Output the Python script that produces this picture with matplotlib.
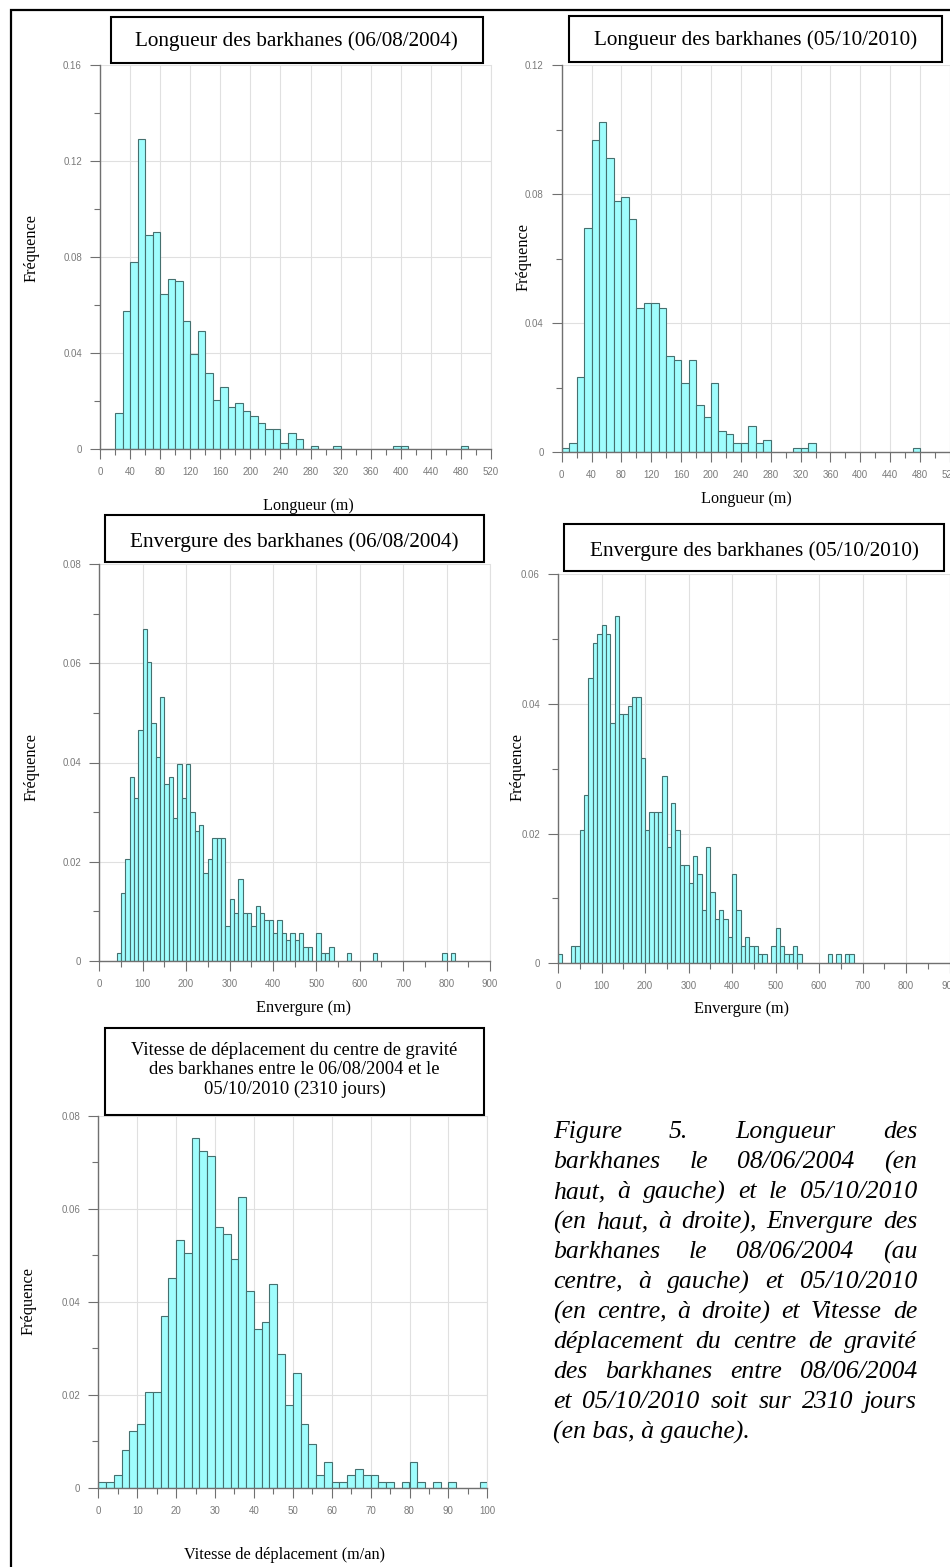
import matplotlib
matplotlib.use('Agg')
import matplotlib.pyplot as plt
from matplotlib.patches import Rectangle
from matplotlib.ticker import MultipleLocator, FuncFormatter

# Longueur des barkhanes 2004 : classes de 10 m à partir de 20 m
long04_start = 20
long04_freq = [0.015, 0.0575, 0.078, 0.129, 0.089, 0.0905, 0.0645, 0.071, 0.070, 0.0535,
               0.0395, 0.049, 0.0315, 0.0205, 0.026, 0.0175, 0.019, 0.016, 0.0138, 0.011,
               0.0082, 0.0082, 0.0026, 0.0068, 0.004, 0, 0.0013, 0, 0, 0.0013,
               0, 0, 0, 0, 0, 0, 0, 0.0013, 0.0013, 0,
               0, 0, 0, 0, 0, 0, 0.0013]

# Longueur des barkhanes 2010 : classes de 10 m à partir de 0
long10_start = 0
long10_freq = [0.0012, 0.0028, 0.0232, 0.0696, 0.0969, 0.1024, 0.0912, 0.0778, 0.0792, 0.0724,
               0.0448, 0.0464, 0.0464, 0.0448, 0.0297, 0.0287, 0.0216, 0.0287, 0.0147, 0.0108,
               0.0216, 0.0067, 0.0056, 0.0028, 0.0028, 0.008, 0.0028, 0.0039, 0, 0,
               0, 0.0014, 0.0014, 0.003, 0, 0, 0, 0, 0, 0,
               0, 0, 0, 0, 0, 0, 0, 0.0014]

# Envergure 2004 : classes de 10 m à partir de 40 m
env04_start = 40
env04_freq = [0.0015, 0.0137, 0.0206, 0.037, 0.0328, 0.0466, 0.067, 0.0603, 0.048, 0.0412,
              0.0533, 0.0356, 0.037, 0.0289, 0.0397, 0.0329, 0.0397, 0.0301, 0.0261, 0.0274,
              0.0178, 0.0206, 0.0247, 0.0247, 0.0247, 0.007, 0.0124, 0.0097, 0.0164, 0.0097,
              0.0097, 0.007, 0.011, 0.0097, 0.0082, 0.0082, 0.0055, 0.0082, 0.0055, 0.0042,
              0.0055, 0.0042, 0.0055, 0.0028, 0.0028, 0, 0.0055, 0.0015, 0.0015, 0.0028,
              0, 0, 0, 0.0015, 0, 0, 0, 0, 0, 0.0015,
              0, 0, 0, 0, 0, 0, 0, 0, 0, 0,
              0, 0, 0, 0, 0, 0.0015, 0, 0.0015]

# Envergure 2010 : classes de 10 m à partir de 0
env10_start = 0
env10_freq = [0.0014, 0, 0, 0.0027, 0.0027, 0.0206, 0.026, 0.0439, 0.0494, 0.0508,
              0.0521, 0.0508, 0.037, 0.0535, 0.0384, 0.0384, 0.0397, 0.0411, 0.0411, 0.0316,
              0.0206, 0.0233, 0.0233, 0.0233, 0.0288, 0.0179, 0.0247, 0.0206, 0.0151, 0.0151,
              0.0123, 0.0165, 0.0138, 0.0082, 0.0179, 0.011, 0.0068, 0.0082, 0.0068, 0.0041,
              0.0138, 0.0082, 0.0027, 0.0041, 0.0027, 0.0027, 0.0014, 0.0014, 0, 0.0027,
              0.0055, 0.0027, 0.0014, 0.0014, 0.0027, 0.0014, 0, 0, 0, 0,
              0, 0, 0.0014, 0, 0.0014, 0, 0.0014, 0.0014]

# Vitesse de déplacement : classes de 2 m/an à partir de 0
vit_start = 0
vit_freq = [0.0013, 0.0013, 0.0027, 0.0081, 0.0122, 0.0137, 0.0205, 0.0205, 0.037, 0.0452,
            0.0534, 0.0506, 0.0753, 0.0725, 0.0713, 0.0562, 0.0547, 0.0492, 0.0625, 0.0424,
            0.0342, 0.0357, 0.0439, 0.0287, 0.0179, 0.0246, 0.0138, 0.0095, 0.0027, 0.0055,
            0.0013, 0.0013, 0.0027, 0.004, 0.0027, 0.0027, 0.0013, 0.0013, 0, 0.0013,
            0.0055, 0.0013, 0, 0.0013, 0, 0.0013, 0, 0, 0, 0.0013]

titles = ["Longueur des barkhanes (06/08/2004)",
          "Longueur des barkhanes (05/10/2010)",
          "Envergure des barkhanes (06/08/2004)",
          "Envergure des barkhanes (05/10/2010)",
          "Vitesse de déplacement du centre de gravité\ndes barkhanes entre le 06/08/2004 et le\n05/10/2010 (2310 jours)"]
xlabels = ["Longueur (m)", "Longueur (m)", "Envergure (m)", "Envergure (m)",
           "Vitesse de déplacement (m/an)"]

caption = ["Figure 5. Longueur des",
           "barkhanes le 08/06/2004 (en",
           "haut, à gauche) et le 05/10/2010",
           "(en haut, à droite), Envergure des",
           "barkhanes le 08/06/2004 (au",
           "centre, à gauche) et 05/10/2010",
           "(en centre, à droite) et Vitesse de",
           "déplacement du centre de gravité",
           "des barkhanes entre 08/06/2004",
           "et 05/10/2010 soit sur 2310 jours",
           "(en bas, à gauche)."]

W, H = 950, 1567
fig = plt.figure(figsize=(W / 100, H / 100), dpi=100)
SERIF = ['Liberation Serif', 'DejaVu Serif']
BAR_FC = '#9ffdfd'
BAR_EC = '#45706f'
AX_C = '#707070'


def fx(x):
    return x / W


def fy(y):
    return 1 - y / H


def hist_panel(left, right, bottom, top, start, width, freq, xmax, ymax,
               xmaj, xmin, ymaj, ymin):
    ax = fig.add_axes([fx(left), fy(bottom), fx(right) - fx(left), fy(top) - fy(bottom)])
    edges = [start + i * width for i in range(len(freq))]
    xs = [e for e, f in zip(edges, freq) if f > 0]
    hs = [f for f in freq if f > 0]
    ax.bar(xs, hs, width=width, align='edge', color=BAR_FC, edgecolor=BAR_EC,
           linewidth=0.8, zorder=3)
    ax.set_xlim(0, xmax)
    ax.set_ylim(0, ymax)
    ax.xaxis.set_major_locator(MultipleLocator(xmaj))
    ax.xaxis.set_minor_locator(MultipleLocator(xmin))
    ax.yaxis.set_major_locator(MultipleLocator(ymaj))
    ax.yaxis.set_minor_locator(MultipleLocator(ymin))
    ax.yaxis.set_major_formatter(FuncFormatter(lambda v, p: '0' if abs(v) < 1e-9 else f'{v:g}'))
    ax.grid(True, which='major', color='#e0e0e0', linewidth=0.8, zorder=0)
    ax.set_axisbelow(True)
    ax.spines['top'].set_visible(False)
    ax.spines['right'].set_color('#e0e0e0')
    for s in ('left', 'bottom'):
        ax.spines[s].set_color(AX_C)
        ax.spines[s].set_linewidth(1.0)
        ax.spines[s].set_zorder(4)
    ax.tick_params(which='major', length=7, width=0.8, color=AX_C,
                   labelsize=7, labelcolor='#7a7a7a', pad=6)
    ax.tick_params(which='minor', length=4, width=0.8, color=AX_C)
    for lab in ax.get_xticklabels() + ax.get_yticklabels():
        lab.set_family('Liberation Sans')
    ax.patch.set_alpha(0)
    return ax


hist_panel(100, 491, 449, 65, long04_start, 10, long04_freq, 520, 0.16, 40, 20, 0.04, 0.02)
hist_panel(561.7, 949.9, 452.3, 65, long10_start, 10, long10_freq, 520, 0.12, 40, 20, 0.04, 0.02)
hist_panel(99.3, 490, 960.7, 564.3, env04_start, 10, env04_freq, 900, 0.08, 100, 50, 0.02, 0.01)
hist_panel(558, 949.5, 963.3, 574, env10_start, 10, env10_freq, 900, 0.06, 100, 50, 0.02, 0.01)
hist_panel(98.3, 487.3, 1487.7, 1116, vit_start, 2, vit_freq, 100, 0.08, 10, 5, 0.02, 0.01)

# cadres des titres
boxes = [(110.7, 483, 17, 63), (569, 942, 16, 62), (105, 484, 515, 561.7),
         (564, 944, 524.3, 570.7), (105, 484, 1028, 1115)]
title_y = [41, 40.5, 541.7, 550.8, 1070]
title_size = [15.3, 15.3, 15.3, 15.3, 13.4]
for (x0, x1, y0, y1), t, ty, fs in zip(boxes, titles, title_y, title_size):
    fig.add_artist(Rectangle((fx(x0), fy(y1)), fx(x1) - fx(x0), fy(y0) - fy(y1),
                             transform=fig.transFigure, fill=True, facecolor='white',
                             edgecolor='black', linewidth=1.5, zorder=5))
    fig.text(fx((x0 + x1) / 2), fy(ty), t, ha='center', va='center', fontsize=fs,
             family=SERIF, linespacing=1.17, zorder=6)

# étiquettes des axes
ylab_pos = [(31, 248), (523.3, 256.7), (31.7, 766.7), (517.7, 766.7), (28.3, 1300.7)]
for x, y in ylab_pos:
    fig.text(fx(x), fy(y), "Fréquence", rotation=90, ha='center', va='center',
             fontsize=11.7, family=SERIF)
xlab_pos = [(308, 506), (746.3, 499), (303.3, 1008.3), (741.2, 1009), (284.7, 1555)]
for (x, y), lab in zip(xlab_pos, xlabels):
    fig.text(fx(x), fy(y), lab, ha='center', va='center', fontsize=11.7, family=SERIF)

# cadre général
fig.add_artist(Rectangle((fx(11), fy(1600)), fx(1000) - fx(11), fy(10) - fy(1600),
                         transform=fig.transFigure, fill=False, edgecolor='black',
                         linewidth=1.6, clip_on=False))

# légende justifiée
renderer = fig.canvas.get_renderer()
cap_x0, cap_x1 = 553, 917
cap_base, cap_dy = 1138.3, 30
for i, line in enumerate(caption):
    y = fy(cap_base + i * cap_dy)
    if i == len(caption) - 1:
        fig.text(fx(cap_x0), y, line, ha='left', va='baseline', fontsize=18.5,
                 style='italic', family=SERIF)
        continue
    words = line.split(' ')
    texts = [fig.text(0, y, w, ha='left', va='baseline', fontsize=18.5,
                      style='italic', family=SERIF) for w in words]
    widths = [t.get_window_extent(renderer).width for t in texts]
    gap = (cap_x1 - cap_x0 - sum(widths)) / (len(words) - 1)
    x = cap_x0
    for t, w in zip(texts, widths):
        t.set_x(fx(x))
        x += w + gap

fig.savefig('out.png', dpi=100, facecolor='white')
